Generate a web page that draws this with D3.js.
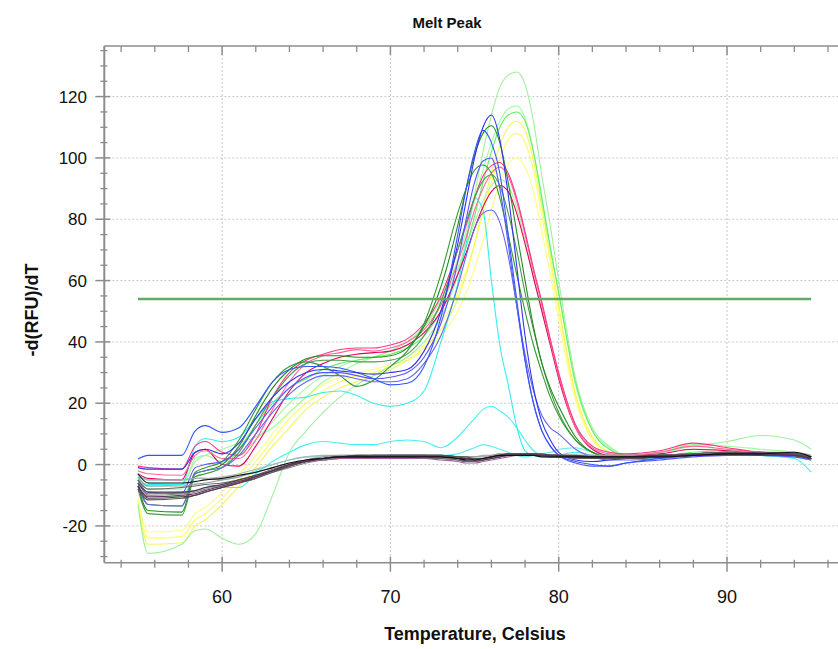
<!DOCTYPE html>
<html>
<head>
<meta charset="utf-8">
<script src="https://cdn.jsdelivr.net/npm/d3@7"></script>
<style>
html,body{margin:0;padding:0;background:#fff;}
svg{display:block;font-family:"Liberation Sans",Arial,sans-serif;}
</style>
</head>
<body>
<svg id="chart" width="838" height="649"></svg>
<script>
// ---------- DATA ----------
const chartTitle = "Melt Peak";
const xTitle = "Temperature, Celsius";
const yTitle = "-d(RFU)/dT";
const xTickLabels = [60, 70, 80, 90];
const yTickLabels = [-20, 0, 20, 40, 60, 80, 100, 120];
const threshold = 54;
const thresholdRange = [55, 95];

const temps = [55, 55.6, 57.6, 58.4, 59, 60, 61, 62, 63, 64, 65, 66, 67, 68, 69, 70, 71, 72, 73, 74, 74.5, 75, 75.5, 76, 76.5, 77, 77.5, 78, 78.5, 79, 79.5, 80, 81, 82, 83, 84, 86, 88, 90, 92, 94, 95];

// blues
const blue1 = [-1, -1.5, -1.5, 4, 5, 3.5, 7, 15, 22, 27, 30, 31, 30.5, 30, 29.5, 30, 31, 37, 50, 72, 86, 100, 110, 114, 106, 88, 65, 42, 25, 14, 8, 4, 1.5, 1, 1.5, 2, 2.5, 3, 3.5, 3, 3, 2];
const blue2 = [1.8, 3, 3, 11, 12.7, 10.5, 12, 19, 27, 31, 32, 32, 31.5, 30, 28, 26, 26.5, 32, 48, 75, 90, 102, 109, 105, 95, 75, 54, 34, 20, 11, 6, 3, 1, 0, -0.5, 0.5, 2, 3, 3, 3.5, 3, 2];
const blue3 = [-7, -13, -13.5, -3, -2, -1, 3, 10, 17, 23, 27, 29, 29, 28, 27, 27, 28, 33, 42, 58, 68, 77, 82, 83, 79, 68, 52, 36, 24, 16, 12, 10, 5, 2.5, 1.5, 1.5, 2, 3, 3.5, 3, 3, 2];
const blue4 = [-5, -9, -9.5, -1, 0, 1, 5, 12, 19, 25, 28.5, 30, 30, 29, 28, 28.5, 30, 35, 46, 66, 80, 92, 99, 100, 90, 72, 52, 34, 20, 11, 6, 3, 0.5, -0.5, -0.5, 0.5, 1.5, 2.5, 3, 3, 2.5, 1.5];
// dark greens
const green1 = [-7, -15, -15.5, -3, -2, 0, 6, 16, 25, 31, 34.5, 35.5, 35.5, 35, 35, 35.5, 38, 45, 58, 78, 90, 101, 108, 110.5, 105, 92, 76, 60, 45, 33, 25, 19, 9, 4, 2.5, 2.5, 3, 3.5, 4, 3.5, 3.5, 2.5];
const green2 = [-6, -13, -13.5, -2.5, -1, 1, 8, 18, 27, 32, 33.5, 32, 29, 25.5, 27.5, 32, 37, 46, 62, 82, 90, 96, 97.7, 95, 87, 75, 62, 50, 39, 30, 22, 16, 8, 4, 2.5, 2.5, 3, 3.5, 4, 3.5, 3.5, 2];
const green3 = [-8, -16, -16.5, -4, -3, -1, 4, 13, 22, 29, 33, 34, 34, 33.5, 33.5, 34, 36, 42, 53, 70, 79, 87, 92.5, 94.5, 91, 82, 70, 56, 44, 33, 24, 17, 8, 4, 2.5, 2.5, 3, 3.5, 4, 3.5, 3.5, 2.5];
// pinks
const pink1 = [-0.5, -1, -1.5, 6, 7.5, 4, 3, 10, 22, 30, 34, 36, 37.5, 38, 38, 39, 41, 46, 55, 70, 78, 87, 94, 97.5, 98.5, 95, 87, 76, 64, 53, 41, 30, 13, 6, 4, 3.5, 4.5, 7, 5.5, 4, 3.5, 2.5];
const pink2 = [-2, -3, -3.5, 3, 4.5, 2, 2, 8, 18, 27, 33, 35.5, 36.5, 37.5, 37, 38, 40, 44, 52, 66, 74, 83, 90, 95, 97, 94, 86, 75, 63, 52, 40, 29, 12, 5.5, 3.5, 3, 4, 6, 5, 4, 3.5, 2];
const pink3 = [-3, -4.5, -5, 4, 5, 0, -0.5, 6, 15, 24, 30, 33, 35, 36, 36.5, 37, 39, 43, 50, 62, 69, 77, 84, 89, 91, 89, 82, 72, 61, 50, 39, 28, 12, 5, 3, 3, 3.5, 5, 4.5, 3.5, 3, 2];
// light greens
const lgreen1 = [-13, -29, -26, -21.5, -21, -24, -26, -22.5, -10, 4, 11, 17, 22, 26, 29, 32, 35, 40, 48, 62, 74, 88, 102, 114, 123, 127, 128, 124, 112, 94, 78, 60, 28, 12, 6, 3, 4, 6, 7.5, 9.5, 8, 5];
const lgreen2 = [-3, -6, -6.5, 1, 3, 5, 7, 9, 12, 17, 22, 27, 30, 33, 35, 37, 40, 45, 54, 67, 76, 86, 96, 105, 112, 116, 117, 113, 102, 86, 70, 56, 26, 11, 5.5, 3, 4, 6.5, 6, 5, 4, 3];
const lgreen3 = [-5, -10, -10.5, -4, -3, -1, 5, 13, 20, 25, 28, 31, 33, 34, 35, 36, 38, 42, 50, 62, 71, 81, 92, 102, 110, 114, 115, 112, 102, 87, 71, 56, 27, 11, 5, 3, 3, 4, 4.5, 4, 3.5, 2];
const lgreen4 = [-4, -8, -8, 2, 3, 1, 3, 8, 14, 20, 25, 29, 32, 34, 35, 37, 40, 45, 52, 64, 71, 79, 86, 91, 93, 91, 84, 73, 61, 50, 39, 29, 13, 6, 4, 3, 4, 5, 5, 4, 3.5, 2.5];
// yellows
const yellow1 = [-13, -26, -25.5, -20, -18, -13, -7, -1, 6, 12, 18, 22, 25, 27, 29, 31, 34, 38, 44, 54, 62, 72, 84, 95, 104, 110, 112, 109, 99, 84, 68, 52, 23, 9, 4, 2, 2.5, 3, 3.5, 3, 2.5, 1.5];
const yellow2 = [-12, -24, -23.5, -18, -16, -11, -5, 1, 8, 15, 20, 24, 27, 29, 30, 32, 35, 39, 46, 56, 63, 72, 82, 92, 100, 106, 108, 105, 96, 81, 66, 50, 22, 8.5, 4, 2, 2.5, 3, 3.5, 3, 2.5, 1.5];
const yellow3 = [-11, -22, -21.5, -16, -14, -9, -3, 3, 10, 17, 22, 26, 28.5, 30, 31, 32.5, 34, 37, 42, 50, 56, 64, 73, 83, 92, 98, 100, 97, 89, 76, 62, 47, 21, 8, 4, 2, 2, 3, 3, 3, 2.5, 1.5];
// cyans
const cyan1 = [-5, -6.5, -6.5, 6, 8.5, 7.5, 9, 15, 20.5, 21.5, 22, 23.5, 24, 22.5, 20, 19, 20, 24, 40, 59, 72, 87, 83, 60, 39, 26, 12.5, 4.5, 3, 2.5, 2.5, 3, 4, 3, 2.5, 2.5, 3, 3.5, 3.5, 3, 2.5, 1.5];
const cyan2 = [-5, -7, -6.5, -6, -6.5, -7.5, -7.5, -3, 1, 4, 6.5, 7.5, 7, 6.5, 6.5, 7.5, 8, 7.5, 5.5, 9, 12, 15, 18, 19, 17.5, 15.5, 12, 8, 4.5, 3, 2.5, 2.5, 2.5, 2.5, 2.5, 2.5, 2.5, 3, 3.5, 3, 2, -2.5];
const cyan3 = [-4, -5, -5, -4.5, -4.5, -5, -4, -2, 0, 1.5, 2.5, 2.5, 2.5, 3, 3, 3, 3, 3, 3, 3.5, 4.5, 5.5, 6.5, 6, 5, 4, 3, 2.5, 3, 3.5, 4, 5, 5.5, 4, 3, 2.5, 2, 3, 3.5, 3, 2.5, 1.5];
// dark (negative) samples
const dark1 = [-3, -6, -6, -5.5, -5, -4.5, -3.5, -2.5, -1, 0.5, 1.5, 2, 2.5, 2.5, 2.5, 2.5, 2.5, 2.5, 2.5, 2, 1.5, 1.5, 2, 2.5, 3, 3, 3, 3, 3, 2.5, 2.5, 2.5, 2.5, 2.5, 2.5, 2.5, 2.5, 3, 3.5, 3.5, 4, 2.5];
const dark2 = [-5, -8, -7.5, -7, -6.5, -6, -5, -3.5, -1.5, 0, 1, 1.5, 2, 2, 2.5, 2.5, 2.5, 2, 2, 1.5, 1, 1, 1.5, 2, 2.5, 3, 3, 3, 3, 3, 2.5, 2.5, 2, 2, 2, 2, 2.5, 3, 3.5, 3.5, 3.5, 2];
const dark3 = [-6, -9, -9, -8.5, -7.5, -6.5, -5, -3.5, -2, -0.5, 1, 2, 2.5, 3, 3, 3, 3, 3, 3, 2.5, 2, 2, 2, 2.5, 3, 3.5, 3.5, 3.5, 3.5, 3.5, 3, 3, 3, 2.5, 2.5, 2.5, 3, 3, 3.5, 3.5, 3, 2];
const dark4 = [-7, -10.5, -10, -9.5, -8.5, -7, -5.5, -4, -2, 0, 1.5, 2, 2.5, 2.5, 2.5, 3, 3, 3, 2.5, 2, 1.5, 1.5, 2, 2.5, 3, 3, 3, 3.5, 3.5, 3, 3, 3, 2.5, 2.5, 2, 2, 2.5, 3, 3.5, 4, 3.5, 2.5];
const dark5 = [-8, -11.5, -11, -10, -9, -7.5, -6, -4.5, -2.5, -0.5, 1, 2, 2.5, 2.5, 3, 3, 3, 3, 3, 2.5, 2.5, 2, 2, 2.5, 3, 3.5, 3.5, 3.5, 3, 3, 3, 2.5, 2.5, 2, 2, 2, 2.5, 3.5, 4, 3.5, 3.5, 2];
const dark6 = [-4, -7, -7, -6.5, -6, -5, -4, -2.5, -1, 0.5, 1.5, 2.5, 3, 3, 3, 3, 3, 3, 3, 2.5, 2.5, 2.5, 2.5, 3, 3.5, 3.5, 3.5, 3.5, 3, 3, 3, 3, 3, 3, 3, 3, 3, 3.5, 4, 4, 4, 3];
const dark7 = [-6, -9.5, -9, -8.5, -7.5, -6.5, -5.5, -4, -2, -0.5, 1, 1.5, 2, 2, 2, 2, 2, 2, 1.5, 1, 0.5, 0.5, 1, 1.5, 2, 2.5, 3, 3, 3, 3, 2.5, 2.5, 2.5, 2.5, 2.5, 2.5, 3, 3.5, 4, 3.5, 3, 2];
const dark8 = [-5, -10, -9.5, -9, -8, -7, -6, -4.5, -2.5, -1, 0.5, 1.5, 2, 2.5, 2.5, 2.5, 2.5, 2.5, 2, 1.5, 1, 1, 1.5, 2, 2.5, 3, 3, 3, 3, 3, 3, 3, 2.5, 2, 2, 2, 2.5, 3, 3.5, 3.5, 3.5, 2.5];
const dark9 = [-3, -5, -5, -4.5, -4.5, -4, -3, -1.5, 0, 1.5, 2.5, 3, 3, 3, 3, 3, 3, 3, 3, 2.5, 2.5, 2.5, 3, 3, 3.5, 3.5, 3.5, 3.5, 3.5, 3, 3, 3, 3, 3, 3, 3, 3, 3.5, 4, 4, 3.5, 2.5];
const dark10 = [-7, -11, -10.5, -10, -9, -7.5, -6, -4, -2, 0, 1, 2, 2.5, 2.5, 2.5, 2.5, 2.5, 2.5, 2.5, 2, 2, 1.5, 1.5, 2, 2.5, 3, 3, 3, 3, 3, 3, 3, 2.5, 2.5, 2.5, 2.5, 3, 3, 3.5, 3.5, 3, 2];

const coloredSeries = [
  {values: yellow3, color: "#ffff80"},
  {values: yellow2, color: "#ffff66"},
  {values: yellow1, color: "#f5f55a"},
  {values: lgreen4, color: "#a8f5a8"},
  {values: lgreen2, color: "#99ff99"},
  {values: lgreen3, color: "#66ee66"},
  {values: lgreen1, color: "#a0f0a0"},
  {values: cyan3, color: "#55eeee"},
  {values: cyan2, color: "#44f0f0"},
  {values: cyan1, color: "#33eeee"},
  {values: pink3, color: "#e6005c"},
  {values: pink2, color: "#ff6699"},
  {values: pink1, color: "#ff3388"},
  {values: green3, color: "#4a9a4a"},
  {values: green2, color: "#339933"},
  {values: green1, color: "#228b22"},
  {values: blue4, color: "#5555ff"},
  {values: blue3, color: "#6666ee"},
  {values: blue2, color: "#3355ff"},
  {values: blue1, color: "#3333ee"}
];
const darkSeries = [
  {values: dark9, color: "#b0b0b0"},
  {values: dark8, color: "#888888"},
  {values: dark6, color: "#999999"},
  {values: dark2, color: "#666666"},
  {values: dark7, color: "#996699"},
  {values: dark3, color: "#444444"},
  {values: dark4, color: "#663366"},
  {values: dark5, color: "#555555"},
  {values: dark10, color: "#553355"},
  {values: dark1, color: "#111111"}
];

// ---------- LAYOUT ----------
const svg = d3.select("#chart");
const pL = 104.3, pT = 46, pB = 562.7, pR = 838;
const x = d3.scaleLinear().domain([53, 97]).range([pL, pL + 44 * 16.83]);
const y = d3.scaleLinear().domain([-32, 136.5]).range([pB, pT]);
const axisColor = "#8c8c8c";

// gridlines
const grid = svg.append("g");
grid.selectAll("line.gx").data(xTickLabels).join("line")
  .attr("x1", d => x(d)).attr("x2", d => x(d))
  .attr("y1", pT).attr("y2", pB)
  .attr("stroke", "#c8c8c8").attr("stroke-width", 1).attr("stroke-dasharray", "2,2");
grid.selectAll("line.gy").data(yTickLabels).join("line")
  .attr("x1", pL).attr("x2", pR)
  .attr("y1", d => y(d)).attr("y2", d => y(d))
  .attr("stroke", "#c8c8c8").attr("stroke-width", 1).attr("stroke-dasharray", "2,2");

// clip
svg.append("clipPath").attr("id", "clip").append("rect")
  .attr("x", pL).attr("y", pT).attr("width", pR - pL).attr("height", pB - pT);

const line = d3.line()
  .x((d, i) => x(temps[i]))
  .y(d => y(d))
  .curve(d3.curveMonotoneX);

const plot = svg.append("g").attr("clip-path", "url(#clip)");
plot.selectAll("path.col").data(coloredSeries).join("path")
  .attr("d", d => line(d.values.slice(0, temps.length)))
  .attr("fill", "none").attr("stroke", d => d.color).attr("stroke-width", 1.1);
plot.selectAll("path.dk").data(darkSeries).join("path")
  .attr("d", d => line(d.values.slice(0, temps.length)))
  .attr("fill", "none").attr("stroke", d => d.color).attr("stroke-width", 1.1);

// threshold
plot.append("line")
  .attr("x1", x(thresholdRange[0])).attr("x2", x(thresholdRange[1]))
  .attr("y1", y(threshold)).attr("y2", y(threshold))
  .attr("stroke", "#63aa63").attr("stroke-width", 2.6);

// frame / axes
const ax = svg.append("g").attr("stroke", axisColor);
ax.append("line").attr("x1", pL).attr("x2", pR).attr("y1", pT).attr("y2", pT).attr("stroke-width", 1.5);
ax.append("line").attr("x1", pL).attr("x2", pR).attr("y1", pB).attr("y2", pB).attr("stroke-width", 1.5);
ax.append("line").attr("x1", pL).attr("x2", pL).attr("y1", pT).attr("y2", pB).attr("stroke-width", 2);

// x ticks (every 2 deg minor, 10 major)
const xMinor = d3.range(54, 97, 2).filter(t => t % 10 !== 0);
ax.selectAll("line.xm").data(xMinor).join("line")
  .attr("x1", d => x(d)).attr("x2", d => x(d)).attr("y1", pB - 3).attr("y2", pB + 5).attr("stroke-width", 1.3);
ax.selectAll("line.xM").data(xTickLabels).join("line")
  .attr("x1", d => x(d)).attr("x2", d => x(d)).attr("y1", pB - 6).attr("y2", pB + 9).attr("stroke-width", 1.5);
ax.selectAll("line.xtm").data(xMinor).join("line")
  .attr("x1", d => x(d)).attr("x2", d => x(d)).attr("y1", pT).attr("y2", pT + 6).attr("stroke-width", 1.3);
ax.selectAll("line.xtM").data(xTickLabels).join("line")
  .attr("x1", d => x(d)).attr("x2", d => x(d)).attr("y1", pT).attr("y2", pT + 9).attr("stroke-width", 1.5);

// y ticks (every 5 minor, 20 major)
const yMinor = d3.range(-30, 136, 5).filter(v => v % 20 !== 0);
ax.selectAll("line.ym").data(yMinor).join("line")
  .attr("x1", pL - 4).attr("x2", pL + 3).attr("y1", d => y(d)).attr("y2", d => y(d)).attr("stroke-width", 1.3);
ax.selectAll("line.yM").data(yTickLabels).join("line")
  .attr("x1", pL - 9).attr("x2", pL + 6).attr("y1", d => y(d)).attr("y2", d => y(d)).attr("stroke-width", 1.5);

// labels
svg.selectAll("text.yl").data(yTickLabels).join("text")
  .attr("x", 87).attr("y", d => y(d)).attr("dy", "0.36em")
  .attr("text-anchor", "end").attr("font-size", 17).attr("fill", "#111")
  .text(d => d);
svg.selectAll("text.xl").data(xTickLabels).join("text")
  .attr("x", d => x(d)).attr("y", 603)
  .attr("text-anchor", "middle").attr("font-size", 18).attr("fill", "#111")
  .text(d => d);

svg.append("text").attr("x", 447).attr("y", 28).attr("text-anchor", "middle")
  .attr("font-size", 15).attr("font-weight", "bold").attr("fill", "#111").text(chartTitle);
svg.append("text").attr("x", 475).attr("y", 640).attr("text-anchor", "middle")
  .attr("font-size", 18).attr("font-weight", "bold").attr("fill", "#111").text(xTitle);
svg.append("text").attr("transform", "translate(38,310) rotate(-90)").attr("text-anchor", "middle")
  .attr("font-size", 18).attr("font-weight", "bold").attr("fill", "#111").text(yTitle);
</script>
</body>
</html>
